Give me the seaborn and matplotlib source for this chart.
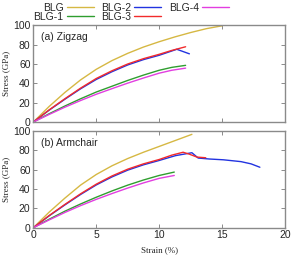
import matplotlib
matplotlib.use('Agg')
import matplotlib.pyplot as plt
import seaborn as sns

sns.set_style('ticks')
plt.rcParams['font.family'] = ['Liberation Sans', 'DejaVu Sans']

names = ['BLG', 'BLG-1', 'BLG-2', 'BLG-3', 'BLG-4']
colors = ['#d6b843', '#2f9e2f', '#2233e0', '#f22b2b', '#e23ee0']

# (a) Zigzag  -- strain (%) / stress (GPa)
zz_x = {
    'BLG':   [0, 1.25, 2.5, 3.75, 5, 6.25, 7.5, 8.75, 10, 11.25, 12.5, 13.75, 15],
    'BLG-1': [0, 1.25, 2.5, 3.75, 5, 6.25, 7.5, 8.75, 10, 11, 12.1],
    'BLG-2': [0, 1.25, 2.5, 3.75, 5, 6.25, 7.5, 8.75, 10, 11.4, 12.4],
    'BLG-3': [0, 1.25, 2.5, 3.75, 5, 6.25, 7.5, 8.75, 10, 11, 12.1],
    'BLG-4': [0, 1.25, 2.5, 3.75, 5, 6.25, 7.5, 8.75, 10, 11, 12.1],
}
zz_y = {
    'BLG':   [0, 16, 30.5, 43.5, 54.5, 63.5, 71, 77.5, 83, 88, 92.5, 96.5, 99.5],
    'BLG-1': [0, 8.5, 16.5, 24, 31, 37, 43, 48.5, 53.5, 56.5, 58.6],
    'BLG-2': [0, 12.2, 23.5, 34.3, 44, 52, 59, 64.5, 69, 75.2, 70.5],
    'BLG-3': [0, 12.5, 24, 35, 45, 53, 60, 65.5, 70, 74, 77.8],
    'BLG-4': [0, 7.8, 15.3, 22.2, 28.7, 34.5, 40.2, 45.5, 50.5, 53.5, 55.7],
}

# (b) Armchair
ac_x = {
    'BLG':   [0, 1.25, 2.5, 3.75, 5, 6.25, 7.5, 8.75, 10, 11.25, 12.6],
    'BLG-1': [0, 1.25, 2.5, 3.75, 5, 6.25, 7.5, 8.75, 10, 11.2],
    'BLG-2': [0, 1.25, 2.5, 3.75, 5, 6.25, 7.5, 8.75, 10, 11.3, 12.6, 13.1, 14, 15.1, 16.5, 17.3, 18.0],
    'BLG-3': [0, 1.25, 2.5, 3.75, 5, 6.25, 7.5, 8.75, 10, 11, 11.9, 12.4, 13.0, 13.7],
    'BLG-4': [0, 1.25, 2.5, 3.75, 5, 6.25, 7.5, 8.75, 10, 11.2],
}
ac_y = {
    'BLG':   [0, 16, 30.5, 44, 55, 64, 71.5, 78, 84, 90, 96.5],
    'BLG-1': [0, 8.7, 17, 24.5, 31.5, 38, 44, 49.3, 54, 57.5],
    'BLG-2': [0, 12.2, 23.5, 34.3, 44.2, 52.5, 59.5, 65, 69.5, 74.5, 77.5, 72, 71, 70.2, 68.3, 66, 62.5],
    'BLG-3': [0, 12.5, 24, 35, 45, 53.5, 60.5, 66, 70.5, 75, 78, 76, 73, 72.3],
    'BLG-4': [0, 8, 15.7, 22.8, 29.3, 35.3, 41, 46.3, 51, 54],
}

fig = plt.figure(figsize=(2.91, 2.58), dpi=100)
ax1 = fig.add_axes([0.1145, 0.527, 0.865, 0.375])
ax2 = fig.add_axes([0.1145, 0.1174, 0.865, 0.375])

panels = [(ax1, zz_x, zz_y, '(a) Zigzag'), (ax2, ac_x, ac_y, '(b) Armchair')]
for ax, xs, ys, title in panels:
    for name, c in zip(names, colors):
        sns.lineplot(x=xs[name], y=ys[name], ax=ax, color=c, lw=1.0,
                     sort=False, estimator=None, label=name)
    ax.set_xlim(0, 20)
    ax.set_ylim(0, 100)
    ax.set_xticks([0, 5, 10, 15, 20])
    ax.set_yticks([0, 20, 40, 60, 80, 100])
    ax.tick_params(direction='in', top=True, right=True, length=3,
                   width=0.6, color='#777777', labelsize=7.5, pad=2)
    for s in ax.spines.values():
        s.set_color('#8a8a8a')
        s.set_linewidth(1.0)
    ax.set_ylabel('Stress (GPa)', family='Liberation Serif', fontsize=6.5, labelpad=2)
    ax.text(0.03, 0.88, title, transform=ax.transAxes, fontsize=7.5, va='center')
    ax.get_legend().remove()

ax1.set_xticklabels([])
ax2.set_xlabel('Strain (%)', family='Liberation Serif', fontsize=6.5, labelpad=4)

handles, labels = ax1.get_legend_handles_labels()
fig.legend(handles, labels, loc='upper left', bbox_to_anchor=(0.115, 0.99),
           ncol=3, frameon=False, markerfirst=False, fontsize=7.5,
           handlelength=2.6, columnspacing=0.7, handletextpad=0.3,
           labelspacing=-0.05, borderpad=0, borderaxespad=0)

fig.savefig('out.png', dpi=100)
